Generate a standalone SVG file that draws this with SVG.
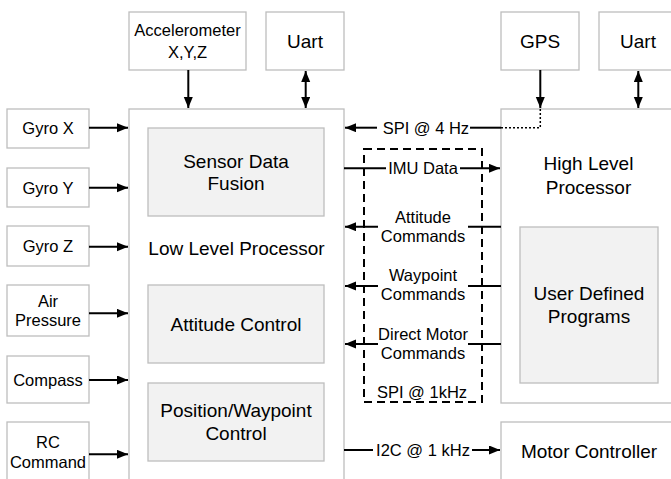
<svg xmlns="http://www.w3.org/2000/svg" width="671" height="479" viewBox="0 0 671 479">
<defs>
<marker id="ah" markerUnits="userSpaceOnUse" markerWidth="12" markerHeight="10" refX="11" refY="4.5" orient="auto-start-reverse">
<path d="M0,0 L11,4.5 L0,9 z" fill="#000"/>
</marker>
</defs>
<style>
.box{fill:#fff;stroke:#bdbdbd;stroke-width:1.3}
.inner{fill:#f2f2f2;stroke:#bdbdbd;stroke-width:1.3}
.s{font-family:"Liberation Sans",Arial,sans-serif;font-size:16.5px;fill:#000;text-anchor:middle}
.b{font-family:"Liberation Sans",Arial,sans-serif;font-size:19px;fill:#000;text-anchor:middle}
.ln{stroke:#000;stroke-width:2;fill:none}
.arr{stroke:#000;stroke-width:2;fill:none;marker-end:url(#ah)}
.dbl{stroke:#000;stroke-width:2;fill:none;marker-end:url(#ah);marker-start:url(#ah)}
</style>
<rect width="671" height="479" fill="#fff"/>
<g id="llp"><rect class="box" x="129" y="109" width="215" height="400"/><text class="b" x="236.5" y="255">Low Level Processor</text></g>
<g id="hlp"><rect class="box" x="501" y="109" width="200" height="294"/><text class="b" x="588.5" y="170">High Level</text><text class="b" x="588.5" y="193.5">Processor</text></g>
<g id="motor"><rect class="box" x="501" y="422" width="200" height="100"/><text class="b" x="589" y="457.8">Motor Controller</text></g>
<g id="accel"><rect class="box" x="129" y="12" width="117" height="58"/><text class="s" x="187.5" y="36">Accelerometer</text><text class="s" x="187.5" y="57.5">X,Y,Z</text></g>
<g id="uart1"><rect class="box" x="266" y="12" width="78" height="58"/><text class="b" x="305" y="47.8">Uart</text></g>
<g id="gps"><rect class="box" x="501" y="12" width="78" height="58"/><text class="b" x="540" y="47.8">GPS</text></g>
<g id="uart2"><rect class="box" x="599" y="12" width="90" height="58"/><text class="b" x="638" y="47.8">Uart</text></g>
<g id="gyrox"><rect class="box" x="7" y="109" width="82" height="39"/><text class="s" x="48" y="134.4">Gyro X</text></g>
<g id="gyroy"><rect class="box" x="7" y="168" width="82" height="39"/><text class="s" x="48" y="193.6">Gyro Y</text></g>
<g id="gyroz"><rect class="box" x="7" y="226" width="82" height="40"/><text class="s" x="48" y="252.2">Gyro Z</text></g>
<g id="air"><rect class="box" x="7" y="285" width="82" height="51"/><text class="s" x="48" y="306.6">Air</text><text class="s" x="48" y="325.9">Pressure</text></g>
<g id="compass"><rect class="box" x="7" y="356" width="82" height="47"/><text class="s" x="48" y="385.6">Compass</text></g>
<g id="rc"><rect class="box" x="7" y="422" width="82" height="70"/><text class="s" x="48" y="447.6">RC</text><text class="s" x="48" y="467.6">Command</text></g>
<g id="fusion"><rect class="inner" x="148" y="128" width="176" height="88"/><text class="b" x="236" y="167.8">Sensor Data</text><text class="b" x="236" y="190.1">Fusion</text></g>
<g id="attitude"><rect class="inner" x="148" y="285" width="176" height="78"/><text class="b" x="236" y="330.8">Attitude Control</text></g>
<g id="position"><rect class="inner" x="148" y="383" width="176" height="78"/><text class="b" x="236" y="416.8">Position/Waypoint</text><text class="b" x="236" y="440.1">Control</text></g>
<g id="user"><rect class="inner" x="520" y="227" width="138" height="156"/><text class="b" x="589" y="300.1">User Defined</text><text class="b" x="589" y="322.8">Programs</text></g>
<g id="spibus"><rect x="364" y="149" width="118" height="253" fill="none" stroke="#000" stroke-width="2" stroke-dasharray="8,5"/><text class="s" x="422" y="398.2">SPI @ 1kHz</text></g>
<g id="connectors">
<line class="arr" x1="89" y1="127.7" x2="128" y2="127.7"/>
<line class="arr" x1="89" y1="187.7" x2="128" y2="187.7"/>
<line class="arr" x1="89" y1="246.7" x2="128" y2="246.7"/>
<line class="arr" x1="89" y1="313.3" x2="128" y2="313.3"/>
<line class="arr" x1="89" y1="380" x2="128" y2="380"/>
<line class="arr" x1="89" y1="454.3" x2="128" y2="454.3"/>
<line class="arr" x1="188.3" y1="70" x2="188.3" y2="108"/>
<line class="dbl" x1="305.7" y1="71" x2="305.7" y2="108"/>
<line class="dbl" x1="638.3" y1="71" x2="638.3" y2="108"/>
<line class="arr" x1="540.3" y1="70" x2="540.3" y2="108"/>
<polyline points="540.3,109 540.3,127.7 501,127.7" fill="none" stroke="#000" stroke-width="1.5" stroke-dasharray="2,2"/>
<line class="ln" x1="470" y1="127.7" x2="501" y2="127.7"/>
<line class="arr" x1="377" y1="127.7" x2="345" y2="127.7"/>
<text class="s" x="425.9" y="133.6">SPI @ 4 Hz</text>
<line class="ln" x1="344" y1="168.3" x2="386" y2="168.3"/>
<line class="arr" x1="460" y1="168.3" x2="500" y2="168.3"/>
<text class="s" x="423" y="174.2">IMU Data</text>
<line class="ln" x1="501" y1="226.7" x2="468" y2="226.7"/>
<line class="arr" x1="378" y1="226.7" x2="345" y2="226.7"/>
<text class="s" x="423" y="222.6">Attitude</text><text class="s" x="423" y="241.9">Commands</text>
<line class="ln" x1="501" y1="286" x2="468" y2="286"/>
<line class="arr" x1="378" y1="286" x2="345" y2="286"/>
<text class="s" x="423" y="280.9">Waypoint</text><text class="s" x="423" y="300.2">Commands</text>
<line class="ln" x1="501" y1="344" x2="468" y2="344"/>
<line class="arr" x1="378" y1="344" x2="345" y2="344"/>
<text class="s" x="423" y="339.9">Direct Motor</text><text class="s" x="423" y="359.2">Commands</text>
<line class="ln" x1="344" y1="450" x2="373" y2="450"/>
<line class="arr" x1="472" y1="450" x2="500" y2="450"/>
<text class="s" x="423" y="455.9">I2C @ 1 kHz</text>
</g>
</svg>
